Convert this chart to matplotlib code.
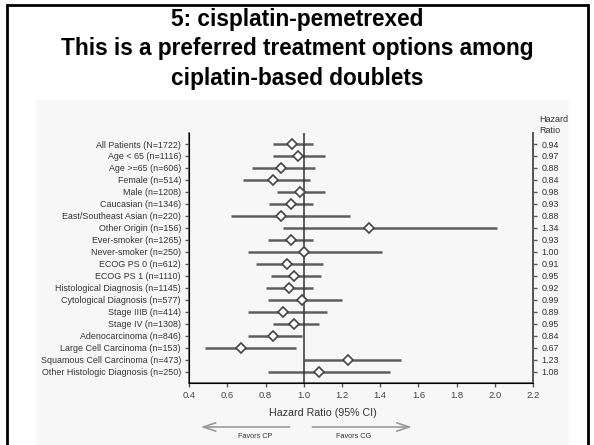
import matplotlib
matplotlib.use("Agg")
import matplotlib.pyplot as plt
from matplotlib.patches import Rectangle

# subgroup labels, hazard ratios and 95% CI bounds
labels = [
    "All Patients (N=1722)", "Age < 65 (n=1116)", "Age >=65 (n=606)",
    "Female (n=514)", "Male (n=1208)", "Caucasian (n=1346)",
    "East/Southeast Asian (n=220)", "Other Origin (n=156)",
    "Ever-smoker (n=1265)", "Never-smoker (n=250)", "ECOG PS 0 (n=612)",
    "ECOG PS 1 (n=1110)", "Histological Diagnosis (n=1145)",
    "Cytological Diagnosis (n=577)", "Stage IIIB (n=414)",
    "Stage IV (n=1308)", "Adenocarcinoma (n=846)",
    "Large Cell Carcinoma (n=153)", "Squamous Cell Carcinoma (n=473)",
    "Other Histologic Diagnosis (n=250)",
]
hr = [0.94, 0.97, 0.88, 0.84, 0.98, 0.93, 0.88, 1.34, 0.93, 1.00,
      0.91, 0.95, 0.92, 0.99, 0.89, 0.95, 0.84, 0.67, 1.23, 1.08]
ci_low = [0.84, 0.84, 0.73, 0.68, 0.86, 0.82, 0.62, 0.89, 0.81, 0.71,
          0.75, 0.83, 0.80, 0.81, 0.71, 0.84, 0.71, 0.48, 1.00, 0.81]
ci_high = [1.05, 1.11, 1.06, 1.03, 1.11, 1.05, 1.24, 2.01, 1.05, 1.41,
           1.10, 1.09, 1.05, 1.20, 1.12, 1.08, 0.99, 0.96, 1.51, 1.45]
hr_text = ["%.2f" % v for v in hr]
xticks = [0.4, 0.6, 0.8, 1.0, 1.2, 1.4, 1.6, 1.8, 2.0, 2.2]

title_lines = ["5: cisplatin-pemetrexed",
               "This is a preferred treatment options among",
               "ciplatin-based doublets"]

plt.rcParams["font.family"] = ["Liberation Sans", "DejaVu Sans"]

W, H = 594, 445
fig = plt.figure(figsize=(W / 100, H / 100), dpi=100)
fig.patch.set_facecolor("white")

# outer slide frame and light panel behind the pasted chart
fig.add_artist(Rectangle((7 / W, -0.05), 581 / W, 1 - 5 / H + 0.05,
                         transform=fig.transFigure, fill=False,
                         edgecolor="black", linewidth=2))
fig.add_artist(Rectangle((36 / W, 0), 533 / W, 345 / H,
                         transform=fig.transFigure, facecolor="#f7f7f7",
                         edgecolor="none", zorder=0))

for i, line in enumerate(title_lines):
    fig.text(0.5, 1 - (19.5 + 29.5 * i) / H, line, ha="center", va="center",
             fontsize=16.3, fontweight="bold", color="black")

ax = fig.add_axes([189.3 / W, 62 / H, (533 - 189.3) / W, 250 / H])
ax.set_facecolor("none")
ypos = list(range(len(labels)))

ax.hlines(ypos, ci_low, ci_high, color="#5e5e5e", linewidth=1.8, zorder=2)
ax.axvline(1.0, color="#333333", linewidth=1.1, zorder=3)
ax.plot(hr, ypos, linestyle="none", marker="D", markersize=5,
        markerfacecolor="white", markeredgecolor="#444444",
        markeredgewidth=1.2, zorder=4)

ax.set_xlim(0.4, 2.2)
ax.set_ylim(len(labels) - 0.05, -0.92)
ax.set_xticks(xticks)
ax.set_xticklabels(["%.1f" % v for v in xticks], fontsize=6.8,
                   color="#444444")
ax.set_yticks(ypos)
ax.set_yticklabels(labels, fontsize=6.4, color="#333333")
ax.tick_params(axis="both", length=3, width=1, color="#555555", pad=3)

ax.spines["top"].set_visible(False)
for side in ["left", "right", "bottom"]:
    ax.spines[side].set_color("#555555")
    ax.spines[side].set_linewidth(1.2)

ax2 = ax.twinx()
ax2.set_ylim(ax.get_ylim())
ax2.set_yticks(ypos)
ax2.set_yticklabels(hr_text, fontsize=6.4, color="#333333")
ax2.tick_params(axis="y", length=3, width=1, color="#555555", pad=3)
ax2.spines["top"].set_visible(False)
ax2.spines["right"].set_color("#555555")
ax2.spines["right"].set_linewidth(1.2)

fig.text(539 / W, 1 - 125 / H, "Hazard\nRatio", ha="left", va="center",
         fontsize=6.5, color="#333333", linespacing=1.3)

xt = ax.get_xaxis_transform()
ax.text(1.1, -0.12, "Hazard Ratio (95% CI)", transform=xt,
        ha="center", va="center", fontsize=7.7, color="#333333")

# "favors" arrows under the axis
arr = dict(arrowstyle="->,head_length=0.9,head_width=0.3",
           color="#9a9a9a", linewidth=1.2)
ax.annotate("", xy=(0.445, -0.176), xytext=(0.94, -0.176),
            xycoords=xt, arrowprops=arr)
ax.annotate("", xy=(1.58, -0.176), xytext=(1.03, -0.176),
            xycoords=xt, arrowprops=arr)
ax.text(0.745, -0.212, "Favors CP", transform=xt,
        ha="center", va="center", fontsize=5.2, color="#333333")
ax.text(1.26, -0.212, "Favors CG", transform=xt,
        ha="center", va="center", fontsize=5.2, color="#333333")

fig.savefig("out.png", dpi=100)
